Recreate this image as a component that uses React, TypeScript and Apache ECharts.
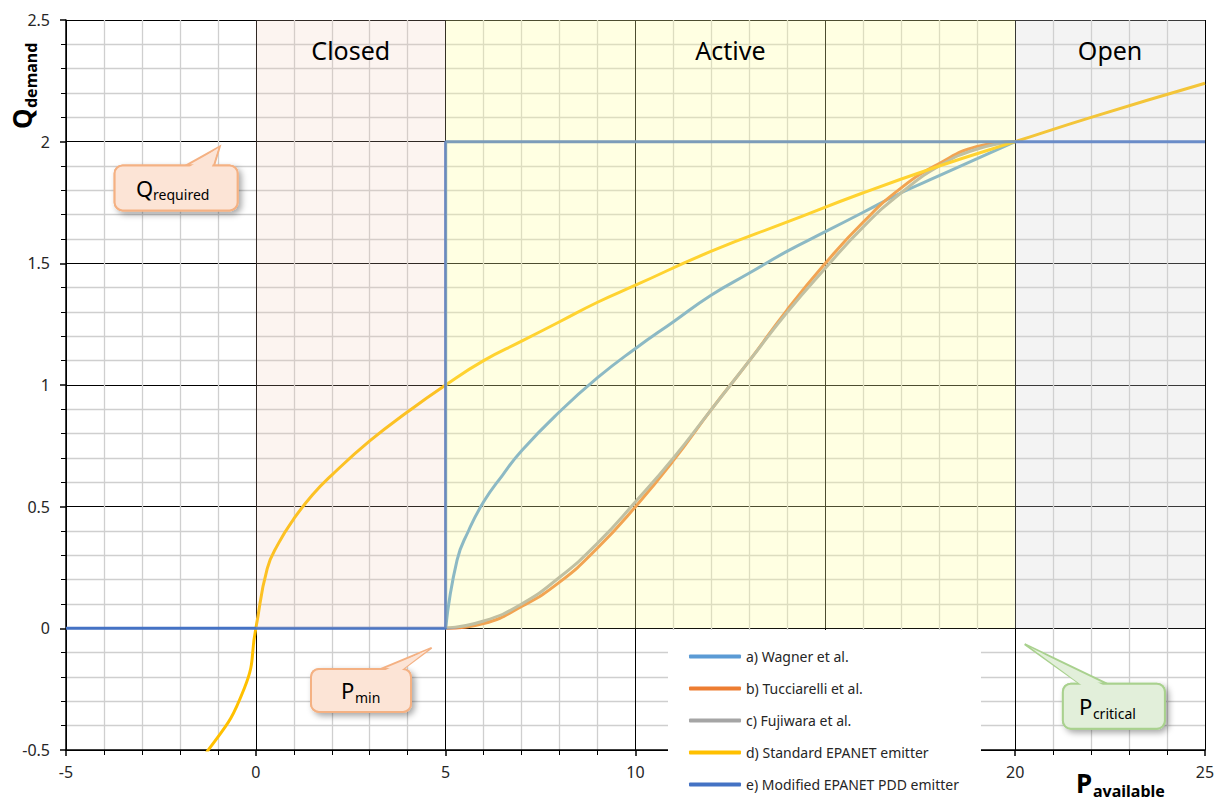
import React, { useEffect, useRef } from "react";
import * as echarts from "echarts";

const FONT = "'Noto Sans', 'Open Sans', sans-serif";

// ---- data ----
const seriesNames = [
  "a) Wagner et al.",
  "b) Tucciarelli et al.",
  "c) Fujiwara et al.",
  "d) Standard EPANET emitter",
  "e) Modified EPANET PDD emitter",
];
const seriesColors = ["#5B9BD5", "#ED7D31", "#A5A5A5", "#FFC000", "#4472C4"];

const wagnerP = [5, 5.3, 5.6, 6, 6.5, 7, 8, 9, 10, 11, 12, 13, 14, 15, 16, 17, 18, 19, 20];
const wagnerQ = [0, 0.28, 0.4, 0.52, 0.63, 0.73, 0.89, 1.03, 1.15, 1.26, 1.37, 1.46, 1.55, 1.63, 1.71, 1.79, 1.86, 1.93, 2.0];

const tucP = [5, 6, 7, 8, 9, 10, 11, 12, 13, 14, 15, 16, 17, 18, 19, 20];
const tucQ = [0, 0.02, 0.09, 0.19, 0.33, 0.5, 0.69, 0.9, 1.1, 1.31, 1.5, 1.67, 1.81, 1.91, 1.98, 2.0];

const fujP = [5, 6, 7, 8, 9, 10, 11, 12, 13, 14, 15, 16, 17, 18, 19, 20];
const fujQ = [0, 0.03, 0.1, 0.21, 0.35, 0.52, 0.7, 0.9, 1.1, 1.3, 1.48, 1.65, 1.79, 1.9, 1.97, 2.0];

const emitP = [-2.5, -1.3, -0.3, 0, 0.3, 0.6, 1, 1.5, 2, 3, 4, 5, 6, 7, 8, 9, 10, 12, 14, 16, 18, 20, 22, 25];
const emitQ = [-0.71, -0.51, -0.245, 0, 0.245, 0.35, 0.45, 0.55, 0.63, 0.77, 0.89, 1.0, 1.1, 1.18, 1.26, 1.34, 1.41, 1.55, 1.67, 1.79, 1.9, 2.0, 2.1, 2.24];

const pddP = [-5, 5, 5, 25];
const pddQ = [0, 0, 2, 2];

const regionNames = ["Closed", "Active", "Open"];
const regionStart = [0, 5, 20];
const regionEnd = [5, 20, 25];
const regionTop = 2.5;
const regionColors = ["rgba(240,200,180,0.2)", "rgba(255,255,160,0.3)", "rgba(210,210,210,0.27)"];

const xMin = -5, xMax = 25, xStep = 5;
const yMin = -0.5, yMax = 2.5, yStep = 0.5;
// tick label hidden behind the legend box in the reference
const hiddenXTicks = [15];

// annotation callouts (data-space anchors)
const callouts = [
  { main: "Q", sub: "required", tip: [-0.95, 1.98], center: [-2.1, 1.81], w: 123, h: 45, base: [10, 38], fill: "#FCE4D6", stroke: "#F4B183", dx: -40, mw: 17 },
  { main: "P", sub: "min", tip: [4.63, -0.08], center: [2.77, -0.255], w: 100, h: 43, base: [20, 42], fill: "#FCE4D6", stroke: "#F4B183", dx: -20, mw: 14 },
  { main: "P", sub: "critical", tip: [20.25, -0.065], center: [22.6, -0.32], w: 102, h: 45, base: [-34, -7], fill: "#E2EFDA", stroke: "#A9D18E", dx: -35, mw: 14 },
];

const zip = (a: number[], b: number[]) => a.map((v, i) => [v, b[i]]);

export default function App() {
  const ref = useRef<HTMLDivElement>(null);
  useEffect(() => {
    if (!ref.current) return;
    const chart = echarts.init(ref.current, undefined, { renderer: "svg" });
    const lineSeries = (name: string, data: number[][], color: string, smooth: any) => ({
      name,
      type: "line",
      data,
      showSymbol: false,
      symbol: "none",
      smooth,
      lineStyle: { color, width: 3 },
      itemStyle: { color },
      z: 3,
    });
    const option: any = {
      animation: false,
      textStyle: { fontFamily: FONT },
      grid: { left: 66, right: 16, top: 20, bottom: 51, containLabel: false, outerBoundsMode: "none" },
      xAxis: {
        type: "value",
        min: xMin,
        max: xMax,
        interval: xStep,
        axisLine: { onZero: false, lineStyle: { color: "#000", width: 1.5 } },
        axisTick: { show: true, length: 6, lineStyle: { color: "#000", width: 1.5 } },
        minorTick: { show: true, splitNumber: 5, length: 5, lineStyle: { color: "#000", width: 1 } },
        splitLine: { show: true, lineStyle: { color: "#000", width: 1 } },
        minorSplitLine: { show: true, lineStyle: { color: "#cfcfcf", width: 1.3 } },
        axisLabel: {
          fontSize: 16,
          color: "#262626",
          margin: 14,
          fontFamily: FONT,
          formatter: (v: number) => (hiddenXTicks.includes(v) ? "" : String(v)),
        },
      },
      yAxis: {
        type: "value",
        min: yMin,
        max: yMax,
        interval: yStep,
        axisLine: { show: true, onZero: false, lineStyle: { color: "#000", width: 1.5 } },
        axisTick: { show: true, length: 6, lineStyle: { color: "#000", width: 1.5 } },
        minorTick: { show: true, splitNumber: 5, length: 5, lineStyle: { color: "#000", width: 1 } },
        splitLine: { show: true, lineStyle: { color: "#000", width: 1 } },
        minorSplitLine: { show: true, lineStyle: { color: "#cfcfcf", width: 1.3 } },
        axisLabel: { fontSize: 16, color: "#262626", margin: 16, fontFamily: FONT },
      },
      legend: {
        data: seriesNames,
        orient: "vertical",
        left: 668,
        top: 630,
        padding: [19, 22, 9, 21],
        itemGap: 17,
        itemWidth: 52,
        itemHeight: 4,
        icon: "roundRect",
        backgroundColor: "#ffffff",
        textStyle: { fontSize: 14, color: "#262626", fontFamily: FONT, lineHeight: 15 },
        z: 20,
      },
      series: [
        lineSeries(seriesNames[0], zip(wagnerP, wagnerQ), seriesColors[0], 0.5),
        lineSeries(seriesNames[1], zip(tucP, tucQ), seriesColors[1], 0.5),
        lineSeries(seriesNames[2], zip(fujP, fujQ), seriesColors[2], 0.5),
        lineSeries(seriesNames[3], zip(emitP, emitQ), seriesColors[3], 0.5),
        lineSeries(seriesNames[4], zip(pddP, pddQ), seriesColors[4], false),
        {
          name: "regions",
          type: "line",
          data: [[xMin, yMin]],
          showSymbol: false,
          symbol: "none",
          lineStyle: { opacity: 0 },
          z: 10,
          markArea: {
            silent: true,
            z: 10,
            label: { show: true, position: "insideTop", distance: 17, fontSize: 25, color: "#000", fontFamily: FONT },
            data: regionNames.map((n, i) => [
              { name: n, xAxis: regionStart[i], yAxis: 0, itemStyle: { color: regionColors[i] } },
              { xAxis: regionEnd[i], yAxis: regionTop },
            ]),
          },
        },
      ],
    };
    chart.setOption(option);

    const px = (p: number[]) => chart.convertToPixel({ gridIndex: 0 }, p) as number[];
    const graphics: any[] = [];
    callouts.forEach((c, i) => {
      const [cx, cy] = px(c.center);
      const [tx, ty] = px(c.tip);
      const top = cy - c.h / 2;
      const left = cx - c.w / 2;
      const b0 = cx + c.base[0];
      const b1 = cx + c.base[1];
      const z = 100 + i * 10;
      graphics.push({
        type: "rect",
        z,
        shape: { x: left, y: top, width: c.w, height: c.h, r: 8 },
        style: { fill: c.fill, stroke: c.stroke, lineWidth: 2, shadowBlur: 6, shadowColor: "rgba(0,0,0,0.35)", shadowOffsetX: 3, shadowOffsetY: 3 },
      });
      graphics.push({
        type: "polygon",
        z: z + 1,
        shape: { points: [[b0, top], [tx, ty], [b1, top]] },
        style: { fill: c.fill, stroke: c.stroke, lineWidth: 2 },
      });
      graphics.push({
        type: "rect",
        z: z + 2,
        shape: { x: left, y: top, width: c.w, height: c.h, r: 8 },
        style: { fill: c.fill, stroke: c.stroke, lineWidth: 2 },
      });
      const mx = (b0 + b1) / 2;
      graphics.push({
        type: "polygon",
        z: z + 3,
        shape: { points: [[b0 + 2.5, top + 2], [tx + (mx - tx) * 0.08, ty + (top - ty) * 0.08], [b1 - 2.5, top + 2]] },
        style: { fill: c.fill, stroke: "none" },
      });
      graphics.push({
        type: "text",
        z: z + 4,
        x: cx + c.dx,
        y: cy,
        style: { text: c.main, fontSize: 22, fontFamily: FONT, fill: "#000", align: "left", verticalAlign: "middle", textAlign: "left", textVerticalAlign: "middle" },
      });
      graphics.push({
        type: "text",
        z: z + 4,
        x: cx + c.dx + c.mw,
        y: cy + 7,
        style: { text: c.sub, fontSize: 14, fontFamily: FONT, fill: "#000", align: "left", verticalAlign: "middle", textAlign: "left", textVerticalAlign: "middle" },
      });
    });
    // axis titles
    graphics.push({
      type: "group",
      x: 22,
      y: 129,
      rotation: Math.PI / 2,
      z: 50,
      children: [
        { type: "text", x: 0, y: 0, style: { text: "Q", fontSize: 26, fontWeight: "bold", fontFamily: FONT, fill: "#000", align: "left", verticalAlign: "middle", textAlign: "left", textVerticalAlign: "middle" } },
        { type: "text", x: 21, y: 9, style: { text: "demand", fontSize: 16, fontWeight: "bold", fontFamily: FONT, fill: "#000", align: "left", verticalAlign: "middle", textAlign: "left", textVerticalAlign: "middle" } },
      ],
    });
    graphics.push({
      type: "group",
      x: 1076,
      y: 783,
      z: 50,
      children: [
        { type: "text", x: 0, y: 0, style: { text: "P", fontSize: 26, fontWeight: "bold", fontFamily: FONT, fill: "#000", align: "left", verticalAlign: "middle", textAlign: "left", textVerticalAlign: "middle" } },
        { type: "text", x: 17, y: 8, style: { text: "available", fontSize: 16, fontWeight: "bold", fontFamily: FONT, fill: "#000", align: "left", verticalAlign: "middle", textAlign: "left", textVerticalAlign: "middle" } },
      ],
    });
    chart.setOption({ graphic: graphics });
    return () => chart.dispose();
  }, []);
  return <div ref={ref} style={{ position: "absolute", left: 0, top: 0, width: 1221, height: 801 }} />;
}
